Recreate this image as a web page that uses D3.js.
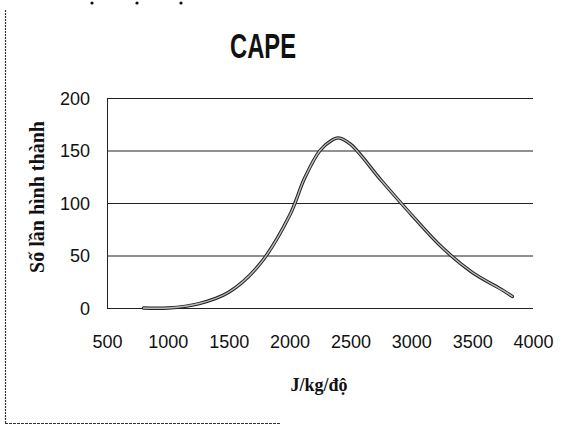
<!DOCTYPE html>
<html><head><meta charset="utf-8">
<script src="https://cdn.jsdelivr.net/npm/d3@7"></script>
<style>body{margin:0;background:#fff}svg{display:block}</style>
</head><body>
<script>
const title = "CAPE";
const xTitle = "J/kg/độ";
const yTitle = "Số lần hình thành";
const xTicks = [500, 1000, 1500, 2000, 2500, 3000, 3500, 4000];
const yTicks = [0, 50, 100, 150, 200];
const capeX = [800, 1000, 1250, 1500, 1750, 2000, 2125, 2250, 2350, 2400, 2500, 2750, 3000, 3250, 3500, 3750, 3830];
const countY = [0, 0, 4, 15, 41, 88, 124, 150, 160, 162, 156, 122, 89, 58, 34, 17, 11];

const W = 568, H = 427;
const svg = d3.select("body").append("svg").attr("width", W).attr("height", H);

const x = d3.scaleLinear().domain([500, 4000]).range([107, 533]);
const y = d3.scaleLinear().domain([0, 200]).range([308, 98]);

// scan frame
svg.append("line").attr("x1", 5.5).attr("x2", 5.5).attr("y1", 10).attr("y2", 423)
  .attr("stroke", "#333").attr("stroke-width", 1.2).attr("stroke-dasharray", "2,1");
svg.append("line").attr("x1", 5).attr("x2", 280).attr("y1", 423.5).attr("y2", 423.5)
  .attr("stroke", "#333").attr("stroke-width", 1.2).attr("stroke-dasharray", "3,1");
[92, 137, 181].forEach(cx => svg.append("circle").attr("cx", cx).attr("cy", 3).attr("r", 1.6).attr("fill", "#111"));

const tickFont = "'Liberation Sans Narrow','Liberation Sans',sans-serif";

// gridlines + y axis
const yAxis = d3.axisLeft(y).tickValues(yTicks).tickSize(-(533 - 107)).tickPadding(17);
const gy = svg.append("g").attr("transform", "translate(107,0)").call(yAxis);
gy.select(".domain").attr("stroke", "#222");
gy.selectAll(".tick line").attr("stroke", "#222").attr("stroke-width", 1.1);
gy.selectAll(".tick text").attr("font-family", tickFont)
  .attr("font-size", 18).attr("fill", "#111").attr("dy", "0.35em");

const xAxis = d3.axisBottom(x).tickValues(xTicks).tickSize(0).tickPadding(28).tickFormat(d3.format("d"));
const gx = svg.append("g").attr("transform", "translate(0,307)").call(xAxis);
gx.select(".domain").remove();
gx.selectAll(".tick text").attr("font-family", tickFont)
  .attr("font-size", 18).attr("fill", "#111");

// curve
const pts = capeX.map((v, i) => [v, countY[i]]);
const line = d3.line().x(d => x(d[0])).y(d => y(d[1])).curve(d3.curveCatmullRom.alpha(0.5));
svg.append("path").datum(pts).attr("d", line).attr("fill", "none")
  .attr("stroke", "#222").attr("stroke-width", 3.4).attr("stroke-linecap", "round");
svg.append("path").datum(pts).attr("d", line).attr("fill", "none")
  .attr("stroke", "#bbb").attr("stroke-width", 1.4).attr("stroke-linecap", "round");

// titles
svg.append("text").attr("x", 263).attr("y", 58).attr("text-anchor", "middle")
  .attr("font-family", "'Liberation Sans Narrow','Liberation Sans',sans-serif").attr("font-weight", "bold")
  .attr("font-size", 35).attr("textLength", 66).attr("lengthAdjust", "spacingAndGlyphs")
  .attr("fill", "#111").text(title);

svg.append("text").attr("transform", "translate(44,197) rotate(-90)").attr("text-anchor", "middle")
  .attr("font-family", "'Liberation Serif','Times New Roman',serif").attr("font-weight", "bold")
  .attr("font-size", 20).attr("fill", "#111").text(yTitle);

svg.append("text").attr("x", 319).attr("y", 391).attr("text-anchor", "middle")
  .attr("font-family", "'Liberation Serif','Times New Roman',serif").attr("font-weight", "bold")
  .attr("font-size", 18).attr("fill", "#111").text(xTitle);
</script>
</body></html>
